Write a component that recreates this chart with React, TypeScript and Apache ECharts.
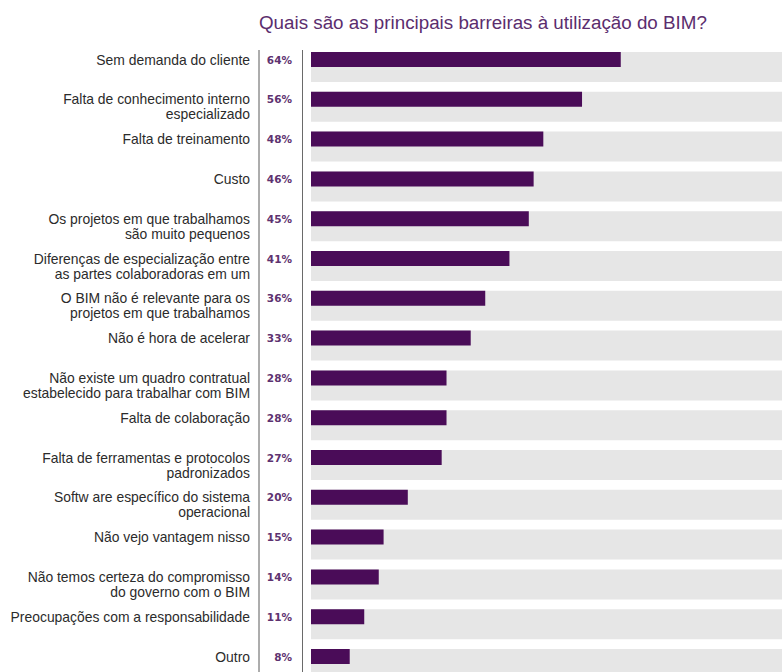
import React, { useEffect, useRef } from "react";
import * as echarts from "echarts";

const TITLE = "Quais são as principais barreiras à utilização do BIM?";

const categories = [
  "Sem demanda do cliente",
  "Falta de conhecimento interno\nespecializado",
  "Falta de treinamento",
  "Custo",
  "Os projetos em que trabalhamos\nsão muito pequenos",
  "Diferenças de especialização entre\nas partes colaboradoras em um",
  "O BIM não é relevante para os\nprojetos em que trabalhamos",
  "Não é hora de acelerar",
  "Não existe um quadro contratual\nestabelecido para trabalhar com BIM",
  "Falta de colaboração",
  "Falta de ferramentas e protocolos\npadronizados",
  "Softw are específico do sistema\noperacional",
  "Não vejo vantagem nisso",
  "Não temos certeza do compromisso\ndo governo com o BIM",
  "Preocupações com a responsabilidade",
  "Outro",
];

const values = [64, 56, 48, 46, 45, 41, 36, 33, 28, 28, 27, 20, 15, 14, 11, 8];

const FULL = 100;
const backgroundValues = categories.map(() => FULL);

export default function App() {
  const ref = useRef<HTMLDivElement>(null);

  useEffect(() => {
    if (!ref.current) return;
    const chart = echarts.init(ref.current, undefined, { renderer: "svg" });
    chart.setOption({
      animation: false,
      title: {
        text: TITLE,
        left: 254,
        top: 8,
        textStyle: {
          fontFamily: "Liberation Sans",
          fontSize: 18.8,
          fontWeight: "normal",
          color: "#5b2d6e",
        },
      },
      grid: {
        left: 311,
        top: 39.6,
        width: 484,
        height: 636.8,
        containLabel: false,
        outerBoundsMode: "none",
      },
      xAxis: {
        type: "value",
        min: 0,
        max: FULL,
        show: false,
      },
      yAxis: {
        type: "category",
        data: categories,
        inverse: true,
        axisLine: { show: false },
        axisTick: { show: false },
        splitLine: { show: false },
        axisLabel: {
          margin: 61,
          fontFamily: "Liberation Sans",
          fontSize: 13.9,
          color: "#2b2b2b",
          lineHeight: 15,
          align: "right",
          verticalAlign: "middle",
          formatter: (v: string) => (v.indexOf("\n") >= 0 ? "\n" + v : v),
        },
      },
      series: [
        {
          type: "bar",
          data: backgroundValues,
          barWidth: 30,
          barGap: "-100%",
          silent: true,
          itemStyle: { color: "#e6e6e6" },
          z: 1,
        },
        {
          type: "bar",
          data: values,
          barWidth: 15,
          silent: true,
          itemStyle: { color: "#4a0c58" },
          z: 2,
          label: {
            show: true,
            position: "left",
            distance: 19,
            formatter: "{c}%",
            fontFamily: "DejaVu Sans",
            fontWeight: "bold",
            fontSize: 10.5,
            color: "#5e3270",
          },
        },
      ],
      graphic: [
        {
          type: "line",
          shape: { x1: 259, y1: 50, x2: 259, y2: 672 },
          style: { stroke: "#5a5a5a", lineWidth: 1 },
          silent: true,
        },
        {
          type: "line",
          shape: { x1: 302.5, y1: 50, x2: 302.5, y2: 672 },
          style: { stroke: "#6a6a6a", lineWidth: 1 },
          silent: true,
        },
      ],
    });
    return () => chart.dispose();
  }, []);

  return <div ref={ref} style={{ width: 782, height: 672, position: "absolute", left: 0, top: 0, background: "#fff" }} />;
}
